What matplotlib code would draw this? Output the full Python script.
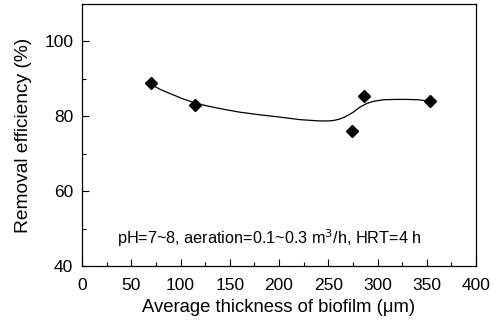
import matplotlib
matplotlib.use("Agg")
import matplotlib.pyplot as plt

plt.rcParams['font.family'] = ['Liberation Sans', 'DejaVu Sans']

# measured points
thickness = [70, 115, 274, 286, 353]
removal = [88.8, 83.0, 76.0, 85.5, 84.1]

# fitted curve
curve_x = [70, 80, 90, 102, 115, 130, 145, 160, 180, 200, 221, 241, 250, 256, 261, 266, 271, 276, 282, 289, 296, 306, 318, 330, 342, 353]
curve_y = [88.5, 87.1, 86.0, 84.7, 83.5, 82.6, 81.8, 81.1, 80.4, 79.8, 79.1, 78.75, 78.75, 78.9, 79.2, 79.7, 80.4, 81.2, 82.4, 83.4, 84.0, 84.4, 84.5, 84.5, 84.4, 84.0]

fig = plt.figure(figsize=(5, 3.2), dpi=100)
ax = fig.add_axes([0.164, 0.169, 0.788, 0.8185])

ax.plot(curve_x, curve_y, color='black', lw=0.9)
ax.plot(thickness, removal, 'D', color='black', markersize=6.5)

ax.set_xlim(0, 400)
ax.set_ylim(40, 110)
ax.set_xticks(range(0, 401, 50))
ax.set_xticks(range(25, 400, 50), minor=True)
ax.set_yticks([40, 60, 80, 100])
ax.set_yticks([50, 70, 90], minor=True)
ax.tick_params(which='both', direction='in', top=False, right=False, labelsize=12.5)
ax.tick_params(which='major', length=5, width=0.8)
ax.tick_params(which='minor', length=3, width=0.8)
ax.tick_params(axis='x', which='major', pad=8.5)
ax.tick_params(axis='y', which='major', pad=6.3)
for s in ax.spines.values():
    s.set_linewidth(0.9)

ax.set_xlabel('Average thickness of biofilm (\u03bcm)', fontsize=13.3, labelpad=4.5)
ax.set_ylabel('Removal efficiency (%)', fontsize=13.8, labelpad=9)

ax.text(35.5, 47.5, 'pH=7~8, aeration=0.1~0.3 m$^3$/h, HRT=4 h', fontsize=11.7, va='center', ha='left')

fig.savefig('out.png', dpi=100)
